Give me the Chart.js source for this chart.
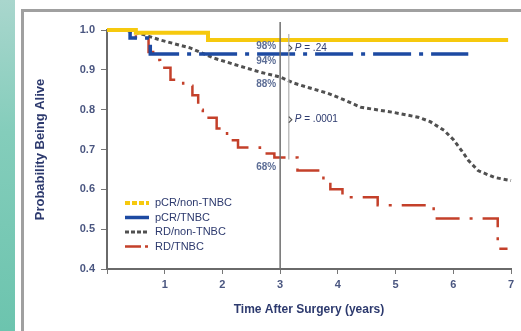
<!DOCTYPE html>
<html>
<head>
<meta charset="utf-8">
<script src="https://cdn.jsdelivr.net/npm/chart.js@4/dist/chart.umd.min.js"></script>
<style>
  body { margin: 0; background: #fff; }
  #wrap { position: relative; width: 521px; height: 331px; overflow: hidden; background: #fff; }
  #strip { position: absolute; left: 0; top: 0; width: 15px; height: 331px;
           background: linear-gradient(#a9d6cd, #84cdbb 40%, #6cc4ae); }
  #frame { position: absolute; left: 21px; top: 9px; width: 520px; height: 340px;
           border-left: 3px solid #a0a0a0; border-top: 3px solid #a0a0a0; }
  #c { position: absolute; left: 0; top: 0; }
</style>
</head>
<body>
<div id="wrap">
  <div id="strip"></div>
  <div id="frame"></div>
  <canvas id="c" width="521" height="331"></canvas>
</div>
<script>
// Series labels (legend order)
const seriesLabels = ["pCR/non-TNBC", "pCR/TNBC", "RD/non-TNBC", "RD/TNBC"];

// Kaplan-Meier points: [years, survival]
const pcrNonTnbc = [[0, 1.0], [0.5, 0.993], [1.75, 0.975], [6.95, 0.975]];
const pcrTnbc = [[0, 1.0], [0.4, 0.98], [0.75, 0.94], [6.26, 0.94]];
const rdNonTnbc = [[0, 1.0], [0.3, 1.0], [0.6, 0.99], [0.92, 0.975], [1.44, 0.955], [1.84, 0.93],
  [2.31, 0.909], [2.66, 0.894], [3.0, 0.882], [3.23, 0.867], [3.5, 0.855], [3.83, 0.841],
  [4.1, 0.825], [4.4, 0.806], [4.97, 0.793], [5.39, 0.781], [5.6, 0.77], [5.84, 0.748],
  [6.0, 0.725], [6.14, 0.698], [6.26, 0.673], [6.43, 0.647], [6.71, 0.63], [7.0, 0.622]];
const rdTnbc = [[0, 1.0], [0.5, 0.98], [0.72, 0.945], [0.8, 0.925], [0.92, 0.905], [1.1, 0.875],
  [1.32, 0.86], [1.48, 0.836], [1.58, 0.8], [1.66, 0.78], [1.9, 0.753], [2.08, 0.723],
  [2.27, 0.705], [2.65, 0.69], [2.9, 0.68], [3.3, 0.647], [3.75, 0.622], [3.87, 0.6],
  [4.08, 0.58], [4.69, 0.56], [5.66, 0.527], [6.77, 0.451], [6.94, 0.451]];

// Axis ticks
const xTicks = [1, 2, 3, 4, 5, 6, 7];
const yTicks = [0.4, 0.5, 0.6, 0.7, 0.8, 0.9, 1.0];

// Survival at 3 years and p-values
const pctLabels = ["98%", "94%", "88%", "68%"];
const pctY = [0.96, 0.922, 0.864, 0.655];
const pLabels = [" = .24", " = .0001"];
const pY = [0.955, 0.775];

const navy = "#2d3a6e";
const toXY = arr => arr.map(p => ({ x: p[0], y: p[1] }));

// Draws the vertical 3-year marker, bracket line and text labels
const annotations = {
  id: "annotations",
  afterDatasetsDraw(chart) {
    const { ctx, scales: { x, y }, chartArea } = chart;
    const x3 = x.getPixelForValue(3);
    ctx.save();
    ctx.strokeStyle = "#6f6f6f";
    ctx.lineWidth = 1.5;
    ctx.beginPath();
    ctx.moveTo(x3, chartArea.top - 8);
    ctx.lineTo(x3, chartArea.bottom);
    ctx.stroke();

    const xb = x.getPixelForValue(3.15);
    ctx.strokeStyle = "#b0b0b0";
    ctx.lineWidth = 1.2;
    ctx.beginPath();
    ctx.moveTo(xb, y.getPixelForValue(0.99));
    ctx.lineTo(xb, y.getPixelForValue(0.675));
    ctx.stroke();
    ctx.strokeStyle = "#555";
    pY.forEach(v => {
      const py = y.getPixelForValue(v);
      ctx.beginPath();
      ctx.moveTo(xb, py - 3);
      ctx.lineTo(xb + 3, py);
      ctx.lineTo(xb, py + 3);
      ctx.stroke();
    });

    ctx.font = "bold 10px 'Liberation Sans', Arial, sans-serif";
    ctx.fillStyle = "#5d6e96";
    ctx.textAlign = "right";
    ctx.textBaseline = "middle";
    pctLabels.forEach((t, i) => ctx.fillText(t, x3 - 4, y.getPixelForValue(pctY[i])));

    ctx.textAlign = "left";
    ctx.fillStyle = navy;
    pLabels.forEach((t, i) => {
      const py = y.getPixelForValue(pY[i]);
      ctx.font = "italic 10px 'Liberation Sans', Arial, sans-serif";
      ctx.fillText("P", xb + 6, py);
      const w = ctx.measureText("P").width;
      ctx.font = "10px 'Liberation Sans', Arial, sans-serif";
      ctx.fillText(t, xb + 6 + w, py);
    });
    ctx.restore();
  }
};

// Legend drawn inside the plot, bottom left
const innerLegend = {
  id: "innerLegend",
  afterDatasetsDraw(chart) {
    const { ctx, chartArea } = chart;
    ctx.save();
    ctx.font = "11px 'Liberation Sans', Arial, sans-serif";
    ctx.textBaseline = "middle";
    chart.data.datasets.forEach((ds, i) => {
      const yy = chartArea.bottom - 66 + i * 14.5;
      const x0 = chartArea.left + 18;
      ctx.strokeStyle = ds.borderColor;
      ctx.lineWidth = ds.borderWidth;
      ctx.setLineDash(ds.legendDash);
      ctx.beginPath();
      ctx.moveTo(x0, yy);
      ctx.lineTo(x0 + 24, yy);
      ctx.stroke();
      ctx.setLineDash([]);
      ctx.fillStyle = navy;
      ctx.fillText(ds.label, x0 + 30, yy);
    });
    ctx.restore();
  }
};

const tickFont = { family: "'Liberation Sans', Arial, sans-serif", size: 11, weight: "bold" };

new Chart(document.getElementById("c"), {
  type: "line",
  data: {
    datasets: [
      { label: seriesLabels[0], data: toXY(pcrNonTnbc), borderColor: "#f6c90e", borderWidth: 4,
        legendDash: [5, 2] },
      { label: seriesLabels[1], data: toXY(pcrTnbc), borderColor: "#1d4aa2", borderWidth: 3.5,
        borderDash: [38, 8, 4, 8], legendDash: [] },
      { label: seriesLabels[2], data: toXY(rdNonTnbc), borderColor: "#505050", borderWidth: 3,
        borderDash: [4, 3], stepped: false, legendDash: [4, 2] },
      { label: seriesLabels[3], data: toXY(rdTnbc), borderColor: "#c4402a", borderWidth: 2.5,
        borderDash: [24, 10, 3, 10], legendDash: [16, 4, 3, 4] }
    ].map(ds => Object.assign({ stepped: true, pointRadius: 0, fill: false, clip: false,
      borderCapStyle: "butt" }, ds))
  },
  options: {
    responsive: false,
    animation: false,
    layout: { padding: { left: 0, top: 30, right: 10, bottom: 0 } },
    plugins: { legend: { display: false }, tooltip: { enabled: false } },
    scales: {
      x: {
        type: "linear", min: 0, max: 7,
        afterFit: s => { s.height = 62; },
        afterBuildTicks: s => { s.ticks = [{ value: 0 }].concat(xTicks.map(v => ({ value: v }))); },
        ticks: { color: "#4a5680", font: tickFont, padding: 4,
          callback: v => (v === 0 ? "" : String(v)) },
        grid: { drawOnChartArea: false, tickLength: 5, color: "#777" },
        border: { color: "#6a6a6a", width: 2 },
        title: { display: true, text: "Time After Surgery (years)", color: navy,
          font: { family: "'Liberation Sans', Arial, sans-serif", size: 12, weight: "bold" },
          padding: { top: 0, bottom: 14 } }
      },
      y: {
        min: 0.4, max: 1.0,
        afterFit: s => { s.width = 107; },
        afterBuildTicks: s => { s.ticks = yTicks.map(v => ({ value: v })); },
        ticks: { color: "#4a5680", font: tickFont, padding: 6, callback: v => v.toFixed(1) },
        grid: { drawOnChartArea: false, tickLength: 6, color: "#777" },
        border: { color: "#6a6a6a", width: 2 },
        title: { display: true, text: "Probability Being Alive", color: navy,
          font: { family: "'Liberation Sans', Arial, sans-serif", size: 13, weight: "bold" },
          padding: { top: 33, bottom: 0 } }
      }
    }
  },
  plugins: [annotations, innerLegend]
});
</script>
</body>
</html>
